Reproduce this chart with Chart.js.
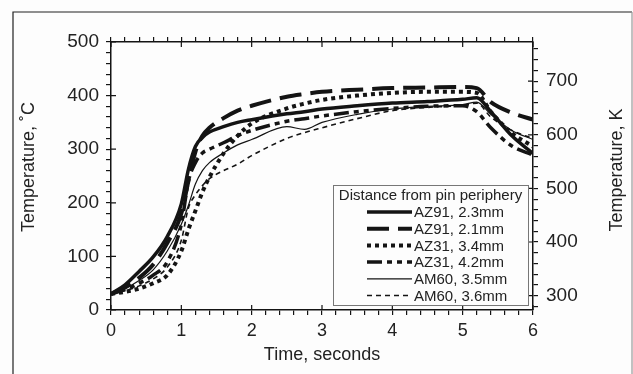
<!DOCTYPE html>
<html>
<head>
<meta charset="utf-8">
<script src="https://cdn.jsdelivr.net/npm/chart.js@4.4.0/dist/chart.umd.min.js"></script>
<style>
  html, body { margin: 0; padding: 0; background: #fdfdfd; }
  #wrap { width: 633px; height: 374px; }
</style>
</head>
<body>
<div id="wrap"><canvas id="tempChart" width="633" height="374"></canvas></div>
<script>
// Time axis (seconds)
var times = [0, 0.2, 0.4, 0.6, 0.8, 1.0, 1.1, 1.2, 1.3, 1.4, 1.6, 1.8, 2.0, 2.5, 2.75, 3.0, 3.5, 4.0, 4.5, 5.0, 5.2, 5.4, 5.7, 6.0];

// Temperatures, deg C
var az91_23 = [30, 47, 72, 99, 137, 198, 262, 305, 322, 332, 342, 350, 355, 366, 370, 375, 381, 386, 389, 393, 396, 370, 325, 292];
var az91_21 = [30, 42, 60, 85, 125, 180, 240, 295, 325, 340, 358, 372, 381, 398, 403, 407, 411, 414, 415, 416, 414, 388, 368, 355];
var az31_34 = [30, 34, 40, 50, 65, 110, 150, 185, 220, 248, 292, 325, 348, 376, 385, 392, 400, 405, 407, 407, 405, 370, 330, 305];
var az31_42 = [30, 38, 50, 65, 90, 160, 240, 275, 293, 300, 312, 325, 335, 352, 357, 362, 370, 376, 380, 381, 370, 340, 306, 289];
var am60_35 = [30, 40, 55, 75, 110, 160, 195, 235, 260, 275, 293, 308, 318, 342, 337, 350, 365, 375, 380, 383, 388, 365, 335, 318];
var am60_36 = [30, 36, 45, 58, 80, 130, 190, 215, 232, 245, 260, 272, 288, 320, 331, 340, 357, 372, 378, 382, 386, 360, 335, 320];

var seriesLabels = ['AZ91, 2.3mm', 'AZ91, 2.1mm', 'AZ31, 3.4mm', 'AZ31, 4.2mm', 'AM60, 3.5mm', 'AM60, 3.6mm'];
var legendTitle = 'Distance from pin periphery';

// Kelvin ticks on the right axis
var kelvinTicks = [];
for (var k = 280; k <= 760; k += 20) kelvinTicks.push(k);

var ink = '#141414';
var fontFamily = '"Liberation Sans", Arial, sans-serif';

function pts(values) {
    return values.map(function (v, i) { return { x: times[i], y: v }; });
}

function line(label, values, width, dash) {
    return {
        label: label,
        data: pts(values),
        borderColor: ink,
        borderWidth: width,
        borderDash: dash,
        borderCapStyle: 'butt',
        pointRadius: 0,
        fill: false,
        cubicInterpolationMode: 'monotone'
    };
}

// frame, y-axis titles, major tick marks inside, legend box
var decorations = {
    id: 'decorations',
    beforeDraw: function (chart) {
        var ctx = chart.ctx;
        ctx.save();
        ctx.fillStyle = '#fdfdfd';
        ctx.fillRect(0, 0, chart.width, chart.height);
        ctx.strokeStyle = '#222';
        ctx.lineWidth = 1.2;
        ctx.beginPath();
        ctx.moveTo(13, 374);
        ctx.lineTo(13, 12);
        ctx.lineTo(632, 12);
        ctx.stroke();
        ctx.strokeStyle = '#999';
        ctx.beginPath();
        ctx.moveTo(632, 12);
        ctx.lineTo(632, 374);
        ctx.stroke();
        ctx.restore();
    },
    afterDraw: function (chart) {
        var ctx = chart.ctx;
        var area = chart.chartArea;
        var sx = chart.scales.x, sy = chart.scales.y, sk = chart.scales.y2;
        ctx.save();

        // major ticks poke into the plot
        ctx.strokeStyle = ink;
        ctx.lineWidth = 1.2;
        ctx.beginPath();
        for (var t = 0; t <= 6; t++) {
            var px = sx.getPixelForValue(t);
            ctx.moveTo(px, area.bottom); ctx.lineTo(px, area.bottom - 5);
            ctx.moveTo(px, area.top); ctx.lineTo(px, area.top + 5);
        }
        for (var c = 0; c <= 500; c += 100) {
            var py = sy.getPixelForValue(c);
            ctx.moveTo(area.left, py); ctx.lineTo(area.left + 5, py);
        }
        for (var kk = 300; kk <= 700; kk += 100) {
            var pk = sk.getPixelForValue(kk);
            ctx.moveTo(area.right, pk); ctx.lineTo(area.right - 5, pk);
        }
        ctx.stroke();

        // y titles, both reading upwards
        ctx.fillStyle = '#222';
        ctx.font = '18px ' + fontFamily;
        ctx.textAlign = 'center';
        ctx.textBaseline = 'middle';
        ctx.save();
        ctx.translate(29, 167);
        ctx.rotate(-Math.PI / 2);
        ctx.fillText('Temperature, \u02DAC', 0, 0);
        ctx.restore();
        ctx.save();
        ctx.translate(617, 170);
        ctx.rotate(-Math.PI / 2);
        ctx.fillText('Temperature, K', 0, 0);
        ctx.restore();

        // legend
        var bx = 333, by = 185, bw = 195, bh = 120;
        ctx.fillStyle = '#fdfdfd';
        ctx.fillRect(bx, by, bw, bh);
        ctx.strokeStyle = '#777';
        ctx.lineWidth = 1;
        ctx.strokeRect(bx + 0.5, by + 0.5, bw, bh);
        ctx.fillStyle = '#222';
        ctx.font = '15px ' + fontFamily;
        ctx.textAlign = 'center';
        ctx.fillText(legendTitle, bx + bw / 2, by + 11);
        ctx.textAlign = 'left';
        chart.data.datasets.forEach(function (ds, i) {
            var ry = 212 + i * 16.7;
            ctx.save();
            ctx.strokeStyle = ds.borderColor;
            ctx.lineWidth = ds.borderWidth;
            ctx.setLineDash(ds.borderDash || []);
            ctx.beginPath();
            ctx.moveTo(367, ry);
            ctx.lineTo(412, ry);
            ctx.stroke();
            ctx.restore();
            ctx.fillText(ds.label, 414, ry + 1);
        });
        ctx.restore();
    }
};

var tickFont = { family: fontFamily, size: 18 };
var ctxTemp = document.getElementById('tempChart').getContext('2d');
var tempChart = new Chart(ctxTemp, {
    type: 'line',
    data: {
        datasets: [
            line(seriesLabels[0], az91_23, 3.5, []),
            line(seriesLabels[1], az91_21, 4, [22, 9]),
            line(seriesLabels[2], az31_34, 4, [4, 4]),
            line(seriesLabels[3], az31_42, 3.5, [15, 5, 5, 5, 5, 5]),
            line(seriesLabels[4], am60_35, 1.2, []),
            line(seriesLabels[5], am60_36, 1.6, [5, 4])
        ]
    },
    options: {
        responsive: false,
        animation: false,
        layout: { padding: 0 },
        plugins: {
            legend: { display: false },
            tooltip: { enabled: false }
        },
        scales: {
            x: {
                type: 'linear', position: 'bottom', min: 0, max: 6,
                ticks: {
                    stepSize: 0.2, autoSkip: false, maxRotation: 0, color: '#222', font: tickFont, padding: 5,
                    callback: function (v) {
                        return Math.abs(v - Math.round(v)) < 1e-6 ? String(Math.round(v)) : '';
                    }
                },
                title: { display: true, text: 'Time, seconds', color: '#222', font: tickFont, padding: { top: 0, bottom: 8 } },
                grid: { drawOnChartArea: false, tickLength: 5, color: ink, lineWidth: 1.2 },
                border: { color: ink, width: 1.5 },
                afterFit: function (s) { s.height = 64; }
            },
            xTop: {
                type: 'linear', position: 'top', min: 0, max: 6,
                ticks: { stepSize: 0.2, autoSkip: false, display: false },
                grid: { drawOnChartArea: false, tickLength: 5, color: ink, lineWidth: 1.2 },
                border: { color: ink, width: 1.5 },
                afterFit: function (s) { s.height = 42; }
            },
            y: {
                position: 'left', min: 0, max: 500,
                ticks: {
                    stepSize: 20, autoSkip: false, color: '#222', font: { family: fontFamily, size: 19 }, padding: 7,
                    callback: function (v) { return v % 100 === 0 ? String(v) : ''; }
                },
                grid: { drawOnChartArea: false, tickLength: 5, color: ink, lineWidth: 1.2 },
                border: { color: ink, width: 1.5 },
                afterFit: function (s) { s.width = 111; }
            },
            y2: {
                position: 'right', min: 273.15, max: 773.15,
                afterBuildTicks: function (s) {
                    s.ticks = kelvinTicks.map(function (v) { return { value: v }; });
                },
                ticks: {
                    autoSkip: false, color: '#222', font: { family: fontFamily, size: 19 }, padding: 8,
                    callback: function (v) { return (v % 100 === 0 && v >= 300 && v <= 700) ? String(v) : ''; }
                },
                grid: { drawOnChartArea: false, tickLength: 5, color: ink, lineWidth: 1.2 },
                border: { color: ink, width: 1.5 },
                afterFit: function (s) { s.width = 100; }
            }
        }
    },
    plugins: [decorations]
});
</script>
</body>
</html>
